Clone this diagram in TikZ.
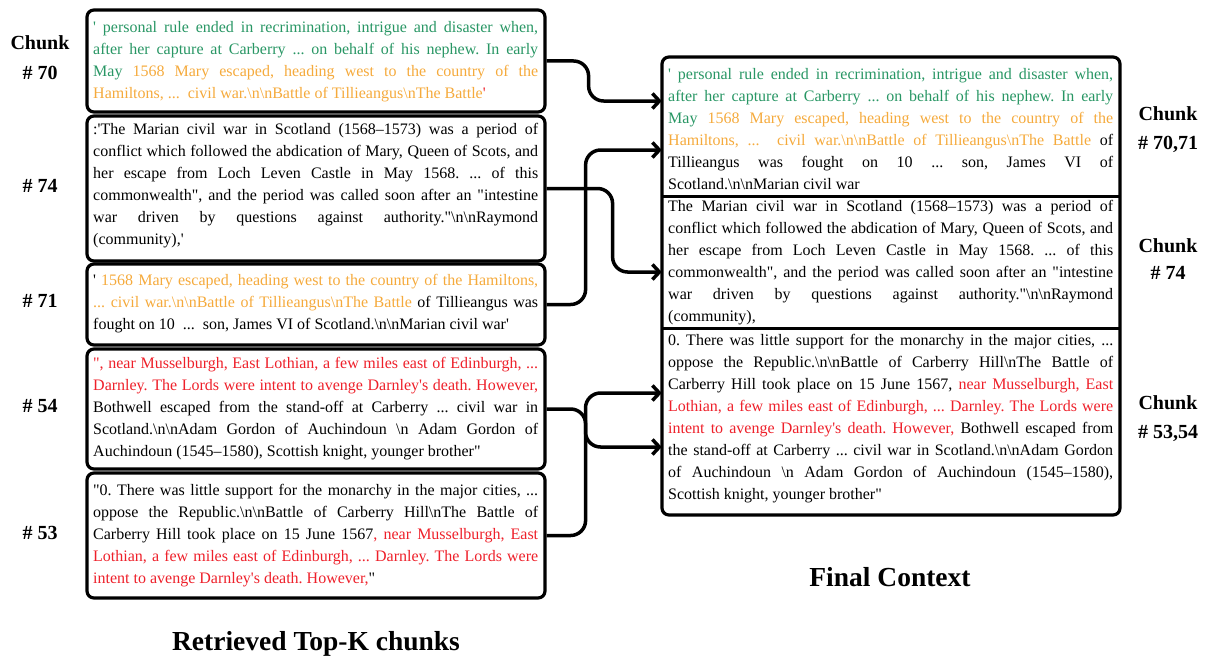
\documentclass[tikz,border=0pt]{standalone}
\usepackage{fontspec}
\newfontfamily\tnr{Liberation Serif}
\usetikzlibrary{arrows.meta,calc}
\definecolor{cgreen}{RGB}{40,150,100}
\definecolor{corange}{RGB}{245,170,60}
\definecolor{cred}{RGB}{238,32,42}
\newlength\tw \setlength\tw{445pt}
\newcommand\bs{\char`\\}
\newcommand\jline[1]{\hbox to\tw{\vrule height13pt depth0pt width0pt\relax #1}}
\newcommand\lline[1]{\hbox{\vrule height13pt depth0pt width0pt\relax #1}}
\newcommand\tblock[1]{\vbox{\frenchspacing\baselineskip=22pt\lineskiplimit=-100pt\lineskip=0pt #1}}
\begin{document}
\begin{tikzpicture}[x=1pt,y=-1pt,
  cbox/.style={draw, line width=3.2pt, rounded corners=7pt, minimum width=458pt, inner sep=0pt},
  plain/.style={inner sep=0pt, minimum width=458pt},
  txt/.style={anchor=north west, inner sep=0pt, font=\tnr\fontsize{16}{22}\selectfont},
  lab/.style={anchor=base, inner sep=0pt, font=\tnr\bfseries\fontsize{20}{24}\selectfont},
  ttl/.style={anchor=base, inner sep=0pt, font=\tnr\bfseries\fontsize{27.5}{32}\selectfont},
  arr/.style={line width=3.5pt, rounded corners=15pt, -{Straight Barb[length=7pt,width=15pt]}},
  conn/.style={line width=3.5pt, rounded corners=15pt}]
\useasboundingbox (0,0) rectangle (1215,661);

% ---------- left boxes ----------
\node[cbox, minimum height=102pt] (b70) at (316,61) {};
\node[cbox, minimum height=145pt] (b74) at (316,188.5) {};
\node[cbox, minimum height=81pt] (b71) at (316,304.5) {};
\node[cbox, minimum height=120pt] (b54) at (316,409) {};
\node[cbox, minimum height=125pt] (b53) at (316,535.5) {};

\node[txt] (t70) at (93,19) {\tblock{%
\jline{\color{cgreen}' personal rule ended in recrimination, intrigue and disaster when,}
\jline{\color{cgreen}after her capture at Carberry ... on behalf of his nephew. In early}
\jline{{\color{cgreen}May} {\color{corange}1568 Mary escaped, heading west to the country of the}}
\lline{{\color{corange}Hamiltons, ...\ \ civil war.\bs n\bs nBattle of Tillieangus\bs nThe Battle}{\color{cred}'}}}};

\node[txt] (t74) at (93,121) {\tblock{%
\jline{:'The Marian civil war in Scotland (1568–1573) was a period of}
\jline{conflict which followed the abdication of Mary, Queen of Scots, and}
\jline{her escape from Loch Leven Castle in May 1568. ... of this}
\jline{commonwealth", and the period was called soon after an "intestine}
\jline{war driven by questions against authority."\bs n\bs nRaymond}
\lline{(community),'}}};

\node[txt] (t71) at (93,272) {\tblock{%
\jline{' {\color{corange}1568 Mary escaped, heading west to the country of the Hamiltons,}}
\jline{{\color{corange}... civil war.\bs n\bs nBattle of Tillieangus\bs nThe Battle} of Tillieangus was}
\lline{fought on 10\ \ ...\ \ son, James VI of Scotland.\bs n\bs nMarian civil war'}}};

\node[txt] (t54) at (93,355) {\tblock{%
\jline{\color{cred}", near Musselburgh, East Lothian, a few miles east of Edinburgh, ...}
\jline{\color{cred}Darnley. The Lords were intent to avenge Darnley's death. However,}
\jline{Bothwell escaped from the stand-off at Carberry ... civil war in}
\jline{Scotland.\bs n\bs nAdam Gordon of Auchindoun \bs n Adam Gordon of}
\lline{Auchindoun (1545–1580), Scottish knight, younger brother"}}};

\node[txt] (t53) at (93,482) {\tblock{%
\jline{"0. There was little support for the monarchy in the major cities, ...}
\jline{oppose the Republic.\bs n\bs nBattle of Carberry Hill\bs nThe Battle of}
\jline{Carberry Hill took place on 15 June 1567{\color{cred}, near Musselburgh, East}}
\jline{\color{cred}Lothian, a few miles east of Edinburgh, ... Darnley. The Lords were}
\lline{{\color{cred}intent to avenge Darnley's death. However,}"}}};

% ---------- right box ----------
\node[cbox, minimum height=458pt] (rf) at (891,286) {};
\node[plain, minimum height=139pt] (r70) at (891,126.5) {};
\node[plain, minimum height=132pt] (r74) at (891,262) {};
\node[plain, minimum height=187pt] (r53) at (891,421.5) {};
\draw[line width=3pt] (r70.south west) -- (r70.south east);
\draw[line width=3pt] (r74.south west) -- (r74.south east);

\node[txt] (s70) at (668,66) {\tblock{%
\jline{\color{cgreen}' personal rule ended in recrimination, intrigue and disaster when,}
\jline{\color{cgreen}after her capture at Carberry ... on behalf of his nephew. In early}
\jline{{\color{cgreen}May} {\color{corange}1568 Mary escaped, heading west to the country of the}}
\jline{{\color{corange}Hamiltons, ...\ \ civil war.\bs n\bs nBattle of Tillieangus\bs nThe Battle} of}
\jline{Tillieangus was fought on 10 ... son, James VI of}
\lline{Scotland.\bs n\bs nMarian civil war}}};

\node[txt] (s74) at (668,198) {\tblock{%
\jline{The Marian civil war in Scotland (1568–1573) was a period of}
\jline{conflict which followed the abdication of Mary, Queen of Scots, and}
\jline{her escape from Loch Leven Castle in May 1568. ... of this}
\jline{commonwealth", and the period was called soon after an "intestine}
\jline{war driven by questions against authority."\bs n\bs nRaymond}
\lline{(community),}}};

\node[txt] (s53) at (668,332) {\tblock{%
\jline{0. There was little support for the monarchy in the major cities, ...}
\jline{oppose the Republic.\bs n\bs nBattle of Carberry Hill\bs nThe Battle of}
\jline{Carberry Hill took place on 15 June 1567, {\color{cred}near Musselburgh, East}}
\jline{\color{cred}Lothian, a few miles east of Edinburgh, ... Darnley. The Lords were}
\jline{{\color{cred}intent to avenge Darnley's death. However,} Bothwell escaped from}
\jline{the stand-off at Carberry ... civil war in Scotland.\bs n\bs nAdam Gordon}
\jline{of Auchindoun \bs n Adam Gordon of Auchindoun (1545–1580),}
\lline{Scottish knight, younger brother"}}};

% ---------- labels ----------
\node[lab] (c70a) at (40,50) {Chunk};
\node[lab] (c70b) at (40,79) {\# 70};
\node[lab] (c74) at (40,192) {\# 74};
\node[lab] (c71) at (40,307) {\# 71};
\node[lab] (c54) at (40,412) {\# 54};
\node[lab] (c53) at (40,539) {\# 53};
\node[lab] (d70a) at (1168,120) {Chunk};
\node[lab] (d70b) at (1168,149) {\# 70,71};
\node[lab] (d74a) at (1168,252) {Chunk};
\node[lab] (d74b) at (1168,279) {\# 74};
\node[lab] (d53a) at (1168,409) {Chunk};
\node[lab] (d53b) at (1168,438) {\# 53,54};
\node[ttl] (tl) at (316,650) {Retrieved Top-K chunks};
\node[ttl] (tr) at (890,586) {Final Context};

% ---------- connectors ----------
\coordinate (p1) at ([yshift=25.5pt]r70.west);
\coordinate (p2) at ([yshift=-23.5pt]r70.west);
\coordinate (p3) at ([yshift=-10pt]r74.west);
\coordinate (p4) at ([yshift=28.5pt]r53.west);
\coordinate (p5) at ([yshift=-25.5pt]r53.west);
\coordinate (j) at (585.5,420);

\draw[arr] (b70.east) -- ++(42,0) |- (p1);
\draw[arr] (b71.east) -- ++(39,0) |- (p2);
\draw[arr] (b74.east) -- ++(66,0) |- (p3);
\draw[conn] (b54.east) -- ++(39,0) |- (b53.east);
\draw[arr] (j) |- (p4);
\draw[arr] (j) |- (p5);
\end{tikzpicture}
\end{document}
